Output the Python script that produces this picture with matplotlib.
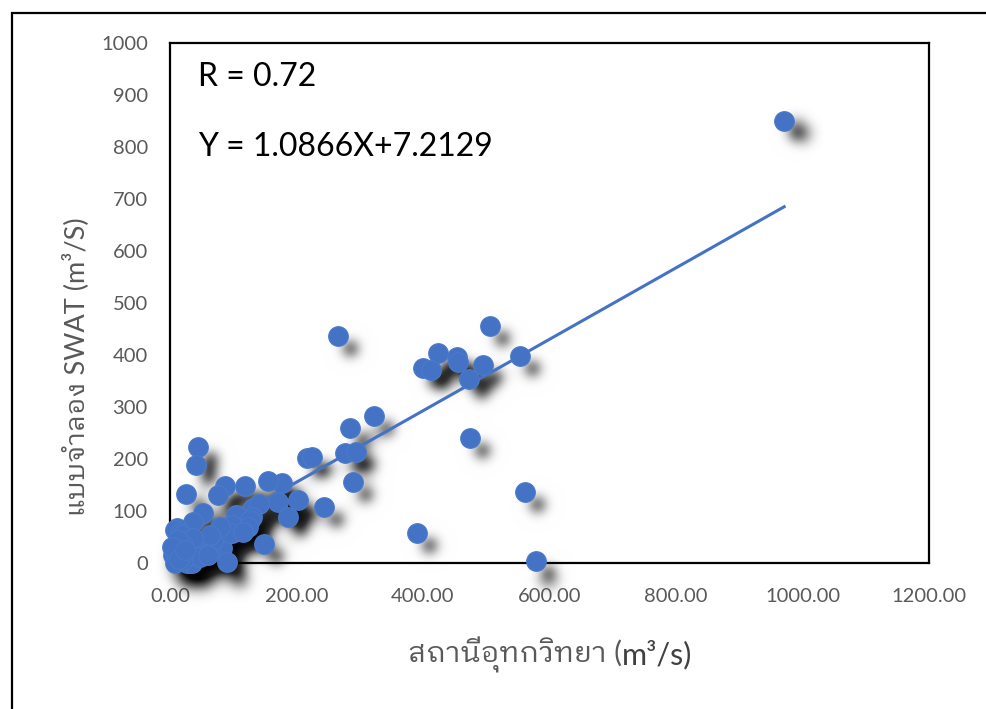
import matplotlib
matplotlib.use('Agg')
import matplotlib.pyplot as plt
import numpy as np
from matplotlib.patches import Rectangle
from matplotlib.transforms import offset_copy

# observed (x) vs SWAT simulated (y) discharge, m3/s
obs = [971, 266, 506, 423, 454, 455, 400, 413, 495, 473, 553, 474, 561, 579, 391,
       323, 285, 277, 294, 290, 216, 224, 243, 203, 177, 155, 171, 187, 149, 131,
       140, 130, 119,
       44, 41, 25, 87, 76, 104, 52, 36, 90, 98, 11, 8, 16, 19, 43, 58, 79, 82,
       82, 90, 5, 8, 32, 27, 35, 63, 47, 21, 19, 82, 98, 68, 60, 95, 126, 123,
       115, 79, 63, 36, 21, 13, 3, 14, 24]
sim = [850, 437, 455, 404, 396, 387, 375, 372, 380, 354, 399, 241, 137, 4, 58,
       283, 259, 212, 214, 156, 202, 204, 108, 121, 154, 157, 117, 88, 36, 105,
       114, 88, 148,
       223, 188, 133, 148, 130, 92, 96, 79, 69, 58, 68, 63, 58, 54, 37, 33, 40, 44,
       29, 1, 16, 0, 0, 0, 0, 21, 12, 6, 21, 60, 73, 44, 15, 58, 83, 69,
       60, 69, 54, 48, 35, 45, 30, 8, 25]

# trendline
trend_slope = 0.687
trend_icpt = 18.0

r_text = "R = 0.72"
eq_text = "Y = 1.0866X+7.2129"
xlabel_a = "สถานีอุทกวิทยา ("
xlabel_b = "m³/s)"
ylabel = "แบบจำลอง SWAT (m³/S)"

xticks = [0, 200, 400, 600, 800, 1000, 1200]
yticks = [0, 100, 200, 300, 400, 500, 600, 700, 800, 900, 1000]

fam = ['Lato', 'IBM Plex Sans Thai Looped', 'DejaVu Sans']


def gauss(sigma):
    r = int(3 * sigma)
    x = np.arange(-r, r + 1)
    k = np.exp(-x ** 2 / (2.0 * sigma ** 2))
    return k / k.sum(), r


def blur_filter(im, dpi):
    # soft drop shadow: gaussian blur of the rendered markers
    pad = 30
    a = np.pad(im, [(pad, pad), (pad, pad), (0, 0)])
    k, r = gauss(5.5)
    for axis in (0, 1):
        out = np.zeros_like(a)
        for i, w in enumerate(k):
            out += w * np.roll(a, i - r, axis=axis)
        a = out
    a[..., 3] = np.clip(a[..., 3] * 1.2, 0, 1)
    return a, -pad, -pad


fig = plt.figure(figsize=(9.86, 7.09), dpi=100)
ax = fig.add_axes([170 / 986, 1 - 563 / 709, (929 - 170) / 986, (563 - 43) / 709])

shadow_tr = offset_copy(ax.transData, fig=fig, x=12, y=-12, units='dots')
sh = ax.scatter(obs, sim, s=210, color='black', alpha=0.9, lw=0, zorder=2,
                clip_on=False, transform=shadow_tr)
sh.set_agg_filter(blur_filter)

xs = np.array([min(obs), max(obs)])
ax.plot(xs, trend_slope * xs + trend_icpt, color='#4472C4', lw=2.2, zorder=3)

ax.scatter(obs, sim, s=200, facecolor='#4472C4', edgecolor='#4A7BCB', lw=0.8,
           zorder=4, clip_on=False)

ax.set_xlim(0, 1200)
ax.set_ylim(0, 1000)
ax.set_xticks(xticks)
ax.set_xticklabels(['%.2f' % v for v in xticks])
ax.set_yticks(yticks)
ax.tick_params(length=0, labelsize=14.5, labelcolor='#595959')
ax.tick_params(axis='y', pad=16)
ax.tick_params(axis='x', pad=18)
for lab in ax.get_xticklabels() + ax.get_yticklabels():
    lab.set_family(fam)
for s in ax.spines.values():
    s.set_linewidth(1.6)
    s.set_color('black')

ax.text(0.037, 0.935, r_text, transform=ax.transAxes, fontsize=23, family=fam, va='center')
ax.text(0.037, 0.80, eq_text, transform=ax.transAxes, fontsize=23, family=fam, va='center')

t1 = fig.text(408 / 986, 1 - 655 / 709, xlabel_a, ha='left', va='center', fontsize=21,
              color='#595959', family=fam)
ax.annotate(xlabel_b, xy=(1, 0.5), xycoords=t1, ha='left', va='center', fontsize=22,
            color='#404040', family=fam, annotation_clip=False)
fig.text(76 / 986, 1 - 367 / 709, ylabel, ha='center', va='center', rotation=90,
         fontsize=19.5, color='#595959', family=fam)

# outer chart frame, cut off at right and bottom
fig.add_artist(Rectangle((12 / 986, -0.1), 2, 1 - 13 / 709 + 0.1, transform=fig.transFigure,
                         fill=False, lw=1.6, edgecolor='black'))

fig.savefig('out.png', dpi=100)
